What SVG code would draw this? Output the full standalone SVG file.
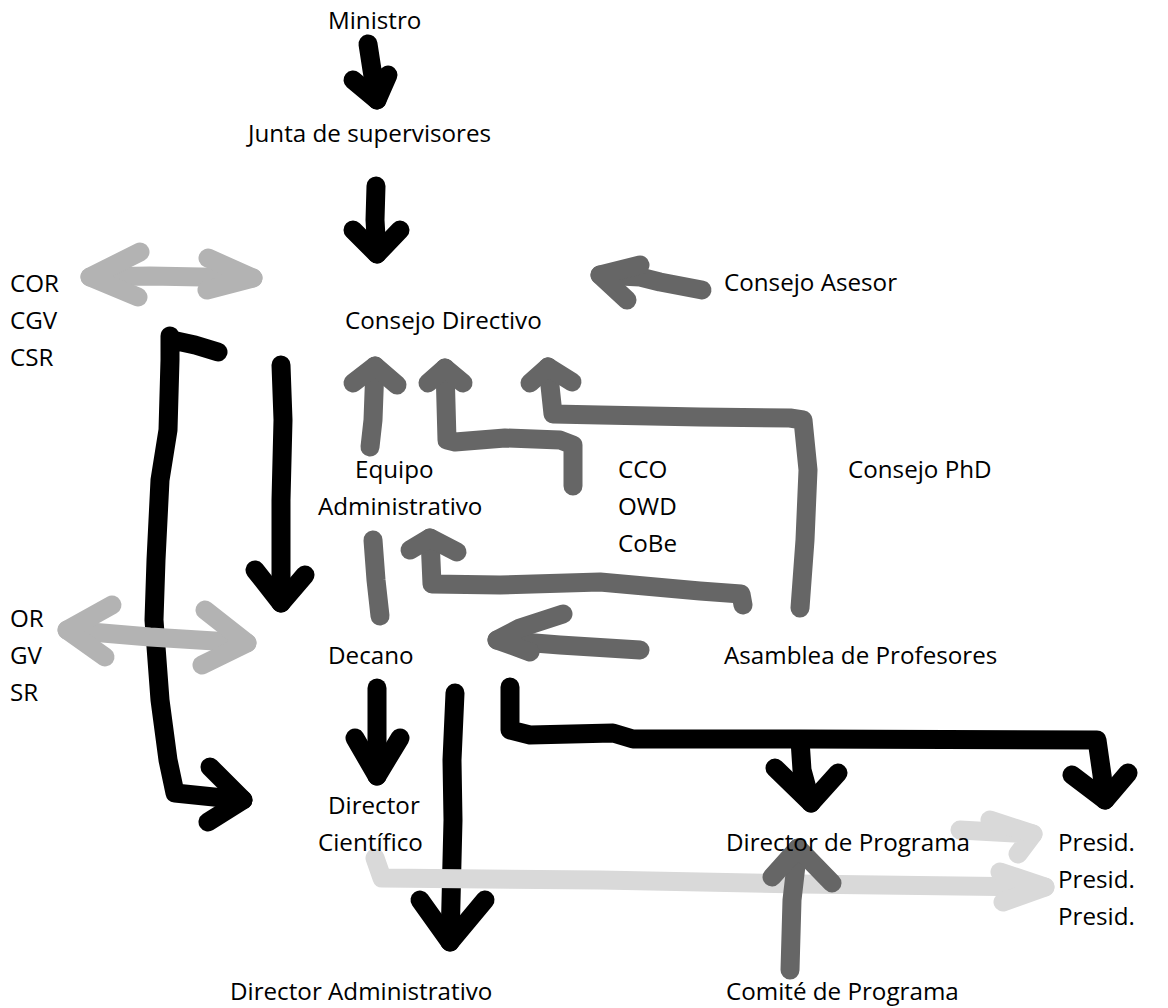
<svg xmlns="http://www.w3.org/2000/svg" width="1168" height="1008" viewBox="0 0 1168 1008">
  <style>
    text { font-family: "Open Sans", "Noto Sans", "DejaVu Sans", sans-serif; font-size: 24.2px; fill: #000; }
    .s { fill: none; stroke-width: 19; stroke-linecap: round; stroke-linejoin: round; }
    .k { stroke: #000; }
    .d { stroke: #666; }
    .l { stroke: #b3b3b3; }
    .p { stroke: #d9d9d9; }
  </style>
  <rect width="1168" height="1008" fill="#fff"/>

  <!-- hand-drawn connectors -->
  <g id="connectors">
    <!-- Ministro to Junta -->
    <path class="s k" d="M368 44 L372 70 L377 100"/>
    <path class="s k" d="M353 80 L377 100 L388 75"/>
    <!-- Junta to Consejo Directivo -->
    <path class="s k" d="M376 186 L375 220 L377 254"/>
    <path class="s k" d="M353 230 L377 254 L400 230"/>
    <!-- COR / CGV / CSR double arrow -->
    <path class="s l" d="M90 277 L150 276 L253 278"/>
    <path class="s l" d="M140 252 L90 277 L138 297"/>
    <path class="s l" d="M208 258 L253 278 L207 290"/>
    <!-- Consejo Asesor to Consejo Directivo -->
    <path class="s d" d="M600 275 L640 277 L660 282 L702 290"/>
    <path class="s d" d="M640 265 L600 275 L627 300"/>
    <!-- left bracket down to Director Cientifico -->
    <path class="s k" d="M218 352 L195 345 L172 340 L170 336 L170 360 L168 430 L160 480 L156 560 L154 620 L160 700 L168 760 L175 793 L243 800"/>
    <path class="s k" d="M210 767 L243 800 L208 822"/>
    <!-- down to Decano -->
    <path class="s k" d="M281 365 L283 420 L281 500 L281 603"/>
    <path class="s k" d="M255 570 L281 603 L305 575"/>
    <!-- OR / GV / SR double arrow -->
    <path class="s l" d="M67 630 L150 637 L247 643"/>
    <path class="s l" d="M112 605 L67 630 L105 657"/>
    <path class="s l" d="M205 610 L247 643 L202 665"/>
    <!-- Equipo Administrativo up to Consejo Directivo -->
    <path class="s d" d="M370 447 L373 420 L375 366"/>
    <path class="s d" d="M353 383 L375 366 L397 385"/>
    <!-- CCO / OWD / CoBe up to Consejo Directivo -->
    <path class="s d" d="M573 486 L573 445 L560 440 L505 438 L455 442 L447 440 L445 368"/>
    <path class="s d" d="M428 383 L445 368 L463 383"/>
    <!-- Asamblea de Profesores up to Consejo Directivo -->
    <path class="s d" d="M800 608 L805 540 L808 470 L803 420 L790 418 L700 417 L600 415 L553 414 L548 367"/>
    <path class="s d" d="M530 383 L548 367 L572 382"/>
    <!-- Administrativo to Decano -->
    <path class="s d" d="M373 540 L376 580 L380 616"/>
    <!-- Asamblea de Profesores to Equipo Administrativo -->
    <path class="s d" d="M743 605 L741 594 L700 591 L600 582 L500 585 L432 584 L430 538"/>
    <path class="s d" d="M410 550 L430 538 L457 552"/>
    <!-- Asamblea de Profesores to Decano -->
    <path class="s d" d="M640 650 L560 645 L497 640"/>
    <path class="s d" d="M563 614 L520 628 L497 640 L530 652"/>
    <!-- Decano to Director Cientifico -->
    <path class="s k" d="M377 688 L377 740 L377 776"/>
    <path class="s k" d="M355 738 L377 776 L400 738"/>
    <!-- Decano to Director Administrativo -->
    <path class="s k" d="M455 693 L452 760 L453 820 L450 942"/>
    <path class="s k" d="M420 900 L450 942 L485 900"/>
    <!-- Decano to Director de Programa and Presidents -->
    <path class="s k" d="M510 687 L510 730 L530 735 L613 733 L633 739 L800 739 L1097 740 L1102 775 L1105 800"/>
    <path class="s k" d="M1072 775 L1105 800 L1128 773"/>
    <path class="s k" d="M800 740 L802 770 L811 803"/>
    <path class="s k" d="M775 768 L811 803 L838 773"/>
    <!-- Director Cientifico to Presidents -->
    <path class="s p" d="M375 858 L382 878 L600 880 L800 884 L1045 887"/>
    <path class="s p" d="M1000 872 L1045 887 L1003 902"/>
    <!-- Director de Programa to Presidents -->
    <path class="s p" d="M960 830 L1033 834 L1018 854"/>
    <path class="s p" d="M990 820 L1033 834"/>
    <!-- Comite de Programa to Director de Programa -->
    <path class="s d" d="M790 970 L792 900 L798 848"/>
    <path class="s d" d="M772 877 L798 848 L832 883"/>
  </g>

  <!-- nodes -->
  <g id="n-ministro"><text x="328" y="29">Ministro</text></g>
  <g id="n-junta"><text x="248" y="142">Junta de supervisores</text></g>
  <g id="n-cor"><text x="10" y="292">COR</text><text x="10" y="329">CGV</text><text x="10" y="366">CSR</text></g>
  <g id="n-consejo-directivo"><text x="345" y="329">Consejo Directivo</text></g>
  <g id="n-consejo-asesor"><text x="724" y="291">Consejo Asesor</text></g>
  <g id="n-equipo"><text x="355" y="478">Equipo</text><text x="318" y="515">Administrativo</text></g>
  <g id="n-cco"><text x="618" y="478">CCO</text><text x="618" y="515">OWD</text><text x="618" y="552">CoBe</text></g>
  <g id="n-phd"><text x="848" y="478">Consejo PhD</text></g>
  <g id="n-or"><text x="10" y="627">OR</text><text x="10" y="664">GV</text><text x="10" y="701">SR</text></g>
  <g id="n-decano"><text x="328" y="664">Decano</text></g>
  <g id="n-asamblea"><text x="724" y="664">Asamblea de Profesores</text></g>
  <g id="n-dir-cientifico"><text x="328" y="814">Director</text><text x="318" y="851">Científico</text></g>
  <g id="n-dir-programa"><text x="726" y="851">Director de Programa</text></g>
  <g id="n-presid"><text x="1058" y="851">Presid.</text><text x="1058" y="888">Presid.</text><text x="1058" y="925">Presid.</text></g>
  <g id="n-dir-admin"><text x="230" y="1000">Director Administrativo</text></g>
  <g id="n-comite"><text x="726" y="1000">Comité de Programa</text></g>
</svg>
